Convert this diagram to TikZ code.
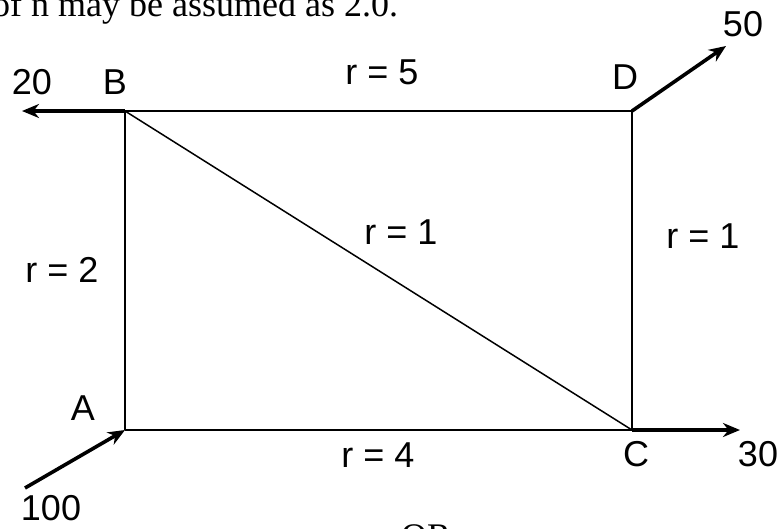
\documentclass[tikz,border=0pt]{standalone}
\usepackage{fontspec}
\setmainfont{Liberation Serif}
\newfontfamily\lblfont{Liberation Sans}
\usetikzlibrary{arrows.meta}
\tikzset{
  lbl/.style   = {font=\lblfont\fontsize{36}{40}\selectfont, inner sep=0pt},
  page/.style  = {font=\fontsize{36}{42}\selectfont, inner sep=0pt, anchor=base west},
  branch/.style= {line width=1.5pt},
  load/.style  = {-{Stealth[length=17pt,width=14pt]}, line width=3.6pt}
}
\begin{document}
\begin{tikzpicture}[x=1pt,y=-1pt]
\useasboundingbox (0,0) rectangle (777,528);
% junctions
\coordinate (A) at (125,430);
\coordinate (B) at (125,111);
\coordinate (C) at (632,430);
\coordinate (D) at (632,111);
% free ends of the loads
\coordinate (inA)  at (25,488);
\coordinate (outB) at (22,111);
\coordinate (outC) at (740,430);
\coordinate (outD) at (726,46);
% page text around the figure
\node[page] (txttop) at (-8,16) {of n may be assumed as 2.0.};
\node[page] (txtor)  at (401,548) {OR};
% labels
\node[lbl] (labA)  at (83,408)  {A};
\node[lbl] (labB)  at (115,82)  {B};
\node[lbl] (labC)  at (636,454) {C};
\node[lbl] (labD)  at (625,77)  {D};
\node[lbl] (q20)   at (32,82)   {20};
\node[lbl] (q50)   at (743,24)  {50};
\node[lbl] (q30)   at (758,454) {30};
\node[lbl] (q100)  at (51,508)  {100};
\node[lbl] (rBD)   at (382,72)  {r = 5};
\node[lbl] (rBC)   at (401,232) {r = 1};
\node[lbl] (rDC)   at (703,236) {r = 1};
\node[lbl] (rAB)   at (62,270)  {r = 2};
\node[lbl] (rAC)   at (378,455) {r = 4};
% pipes
\draw[branch] (A) -- (B) -- (D) -- (C) -- (A);
\draw[branch] (B) -- (C);
% inflow and outflows
\draw[load] (inA) -- (A);
\draw[load] (B) -- (outB);
\draw[load] (C) -- (outC);
\draw[load] (D) -- (outD);
\end{tikzpicture}
\end{document}
